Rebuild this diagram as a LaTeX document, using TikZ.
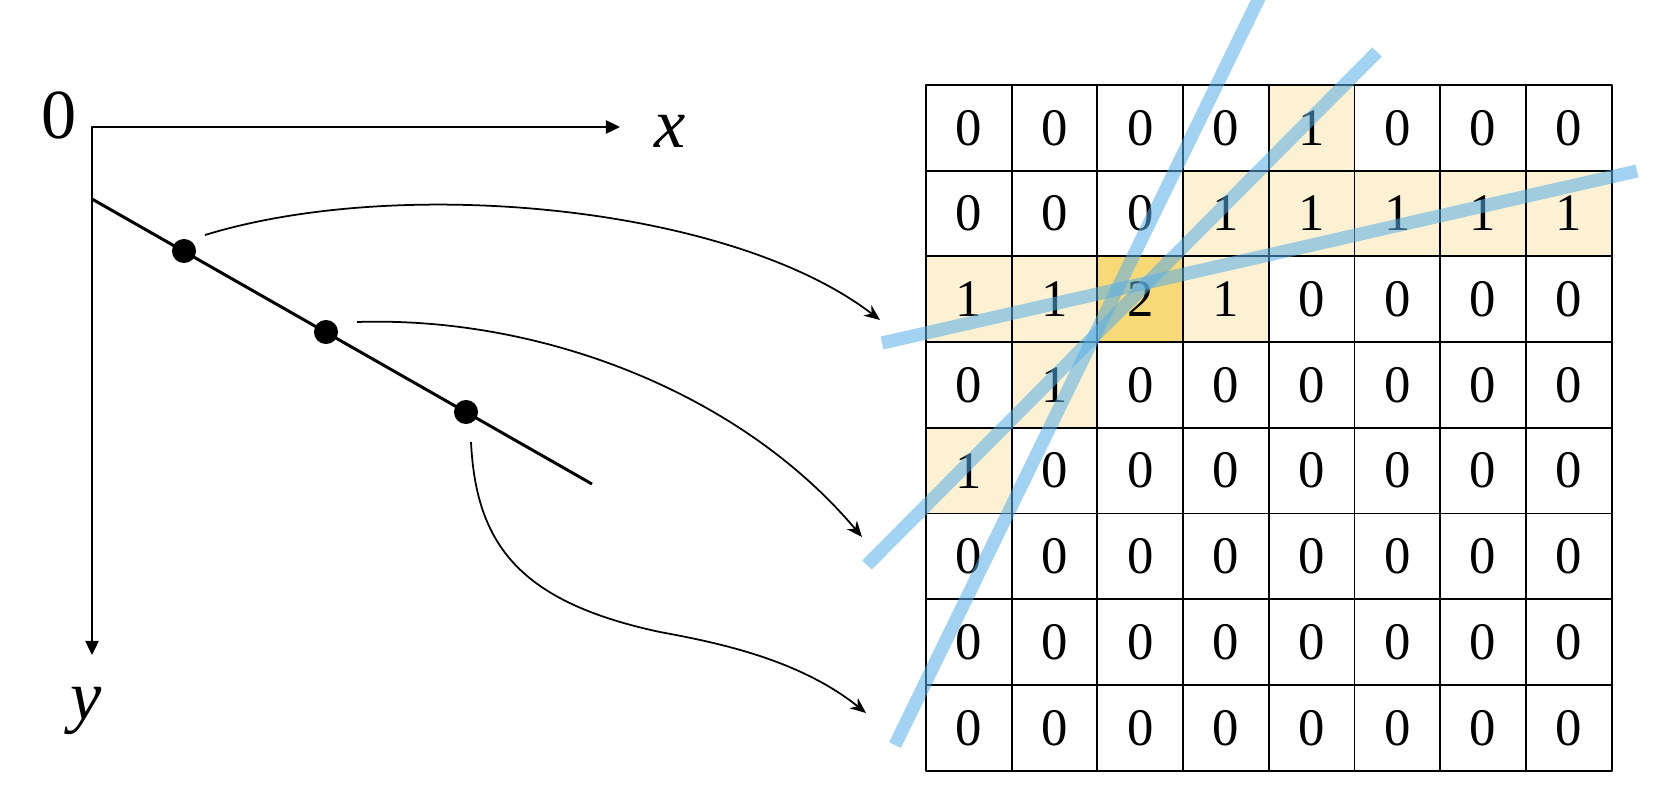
\documentclass[tikz,border=0pt]{standalone}
\usepackage{fontspec}
\setmainfont{Liberation Serif}
\usetikzlibrary{arrows.meta}
\definecolor{cell0}{RGB}{255,255,255}
\definecolor{cell1}{RGB}{252,241,210}
\definecolor{cell2}{RGB}{248,217,120}
\definecolor{houghblue}{RGB}{87,174,232}
\begin{document}
\begin{tikzpicture}[x=0.02cm, y=-0.02cm, line join=round, >={Triangle[length=8pt,width=7.5pt]},
	cell/.style={draw, line width=1.1pt, fill=cell#1, minimum size=1.714cm, inner sep=0pt, font=\fontsize{30}{36}\selectfont},
	dot/.style={circle, fill=black, inner sep=0pt, minimum size=13.7pt},
	hough/.style={draw=houghblue, draw opacity=0.55, line width=7.5pt},
	map/.style={line width=1pt, -{Stealth[length=9pt,width=7.5pt]}},
	lbl/.style={font=\fontsize{40}{48}\selectfont}]
			\useasboundingbox (0,0) rectangle (1660,806);
			\coordinate (O) at (92,127);
			\coordinate (X) at (620,127);
			\coordinate (Y) at (92,655);
			\coordinate (L1) at (92,199);
			\coordinate (L2) at (592,484);
			\coordinate (S1) at (205,235); \coordinate (E1) at (880,320);
			\coordinate (S2) at (357,322); \coordinate (E2) at (862,537);
			\coordinate (S3) at (471,442); \coordinate (E3) at (866,713);
			\coordinate (H1a) at (895,745); \coordinate (H1b) at (1263,-10);
			\coordinate (H2a) at (867,565); \coordinate (H2b) at (1377,52);
			\coordinate (H3a) at (882,343); \coordinate (H3b) at (1637,171);
			%axes and the line
			\draw[<->, line width=1.1pt] (X)--(O)--(Y);
			\draw[line width=1.7pt] (L1)--(L2);
			\node[dot] (P1) at (184,251) {};
			\node[dot] (P2) at (326,332) {};
			\node[dot] (P3) at (466,412) {};
			\node[lbl] (zero) at (59.5,115) {0};
			\node[lbl] (xl) at (670,131) {\textit{x}};
			\node[lbl] (yl) at (86,711) {\textit{y}};
			%points to lines
			\draw[map] (S1) .. controls (400,175) and (730,205) .. (E1);
			\draw[map] (S2) .. controls (540,316) and (740,392) .. (E2);
			\draw[map] (S3) .. controls (476,545) and (520,602) .. (660,632) .. controls (720,643) and (800,660) .. (E3);
			%accumulator
			\foreach \row [count=\r from 0] in {{0,0,0,0,1,0,0,0},{0,0,0,1,1,1,1,1},{1,1,2,1,0,0,0,0},{0,1,0,0,0,0,0,0},{1,0,0,0,0,0,0,0},{0,0,0,0,0,0,0,0},{0,0,0,0,0,0,0,0},{0,0,0,0,0,0,0,0}}
			\foreach \v [count=\c from 0] in \row
			\node[cell=\v] (g-\r-\c) at (968.85+85.7*\c, 127.85+85.7*\r) {\v};
			\draw[hough] (H1a)--(H1b);
			\draw[hough] (H2a)--(H2b);
			\draw[hough] (H3a)--(H3b);
		\end{tikzpicture}
\end{document}
